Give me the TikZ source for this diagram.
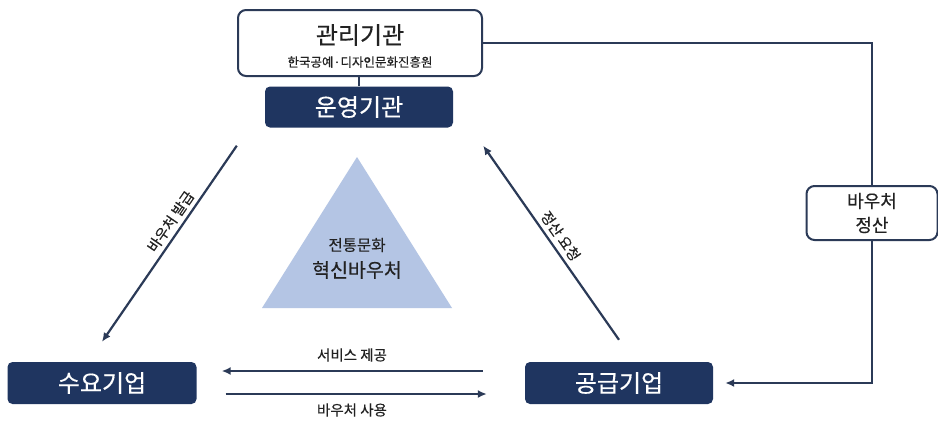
\documentclass[tikz,border=0pt]{standalone}
\usepackage{fontspec}
\setmainfont[FakeBold=0.35]{Noto Sans CJK KR}
\usetikzlibrary{arrows.meta,calc}
\definecolor{navy}{HTML}{1F3560}
\definecolor{lnc}{HTML}{2B3A57}
\definecolor{tri}{HTML}{B4C5E4}
\definecolor{txt}{HTML}{222222}
\tikzset{
 outlinebox/.style={draw=lnc, line width=2pt, rounded corners=8pt, fill=white, inner sep=0pt},
 navybox/.style={fill=navy, rounded corners=5pt, text=white, font=\fontsize{24}{28}\selectfont, inner sep=0pt, minimum height=41pt},
 conn/.style={draw=lnc, line width=2.2pt},
 arr/.style={conn, -{Latex[length=9pt,width=8pt]}},
 lbl/.style={text=txt, font=\fontsize{14.5}{17}\selectfont, inner sep=1pt},
 big/.style={text=txt, inner sep=0pt},
}
\begin{document}
\begin{tikzpicture}[x=1pt,y=-1pt]
\useasboundingbox[fill=white] (0,0) rectangle (938,421);
% top boxes
\node[outlinebox, minimum width=244pt, minimum height=66pt] (mgmt) at (360,43) {};
\node[big, font=\fontsize{24}{28}\selectfont] (mgmtT) at (360,35) {관리기관};
\node[big, font=\fontsize{12.5}{15}\selectfont] (mgmtS) at (360,62) {한국공예·디자인문화진흥원};
\node[navybox, minimum width=188pt] (op) at (359,107) {운영기관};
\draw[conn] (mgmt.south -| op.north) -- (op.north);
% bottom boxes
\node[navybox, minimum width=189pt, minimum height=42pt] (demand) at (102,383) {수요기업};
\node[navybox, minimum width=188pt, minimum height=42pt] (supply) at (619,383) {공급기업};
% settle box
\node[outlinebox, minimum width=131pt, minimum height=54pt, text=txt, align=center, font=\fontsize{18}{24}\selectfont] (settle) at (872,213) {바우처\\정산};
\coordinate (corner) at (872,43);
\draw[conn] (mgmt.east |- corner) -- (corner) -- (settle.north);
\draw[arr] (settle.south) |- ([xshift=12pt]supply.east);
% triangle
\fill[tri] (357,157) -- (452,308) -- (262,308) -- cycle;
\node[big, font=\fontsize{15.5}{18}\selectfont] (triA) at (357,245) {전통문화};
\node[big, font=\fontsize{19.5}{22}\selectfont] (triB) at (357,270) {혁신바우처};
% diagonals
\draw[arr] ([shift={(-28,18)}]op.south west) -- node[lbl, sloped, above=3pt, pos=0.42] (lblA) {바우처 발급} ([shift={(0,-20)}]demand.north);
\draw[arr] ([shift={(0,-22)}]supply.north) -- node[lbl, sloped, above=3pt, pos=0.5] (lblB) {정산 요청} ([shift={(30,18)}]op.south east);
% horizontal arrows
\draw[arr] ([shift={(-42,-12)}]supply.west) -- ([shift={(25,-12)}]demand.east);
\draw[arr] ([shift={(29,11)}]demand.east) -- ([shift={(-38,11)}]supply.west);
\node[lbl] (lblC) at (352,355) {서비스 제공};
\node[lbl] (lblD) at (352,410) {바우처 사용};
\end{tikzpicture}
\end{document}
